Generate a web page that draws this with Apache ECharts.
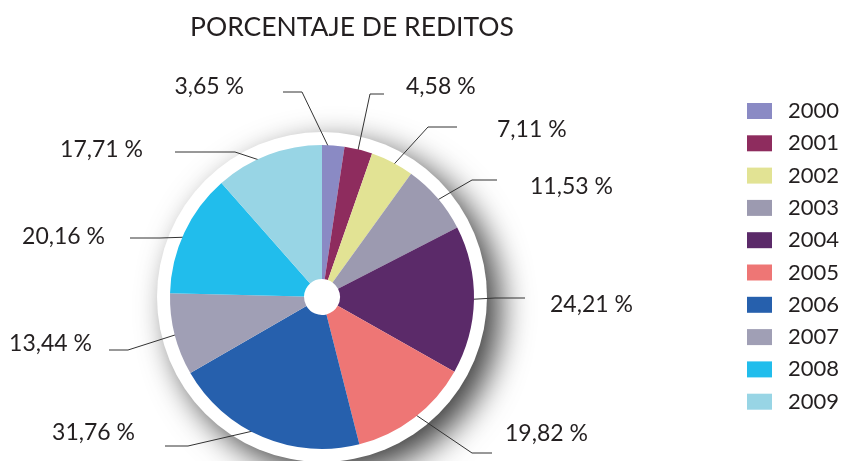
<!DOCTYPE html>
<html>
<head>
<meta charset="utf-8">
<script src="https://cdn.jsdelivr.net/npm/echarts@6/dist/echarts.min.js"></script>
<style>
  html, body { margin: 0; padding: 0; background: #fff; }
  #chart { width: 844px; height: 461px; }
</style>
</head>
<body>
<div id="chart"></div>
<script>
  // data
  var years = ['2000', '2001', '2002', '2003', '2004', '2005', '2006', '2007', '2008', '2009'];
  var reditos = [3.65, 4.58, 7.11, 11.53, 24.21, 19.82, 31.76, 13.44, 20.16, 17.71];

  var colors = ['#8a8ac4', '#8e2c5e', '#e2e394', '#9c9ab0', '#5b2a69',
                '#ee7675', '#2660ad', '#a09fb5', '#21bdec', '#98d5e5'];

  // label placement: text x, text y, align, elbow x, elbow y, end x, end y
  var labelPos = [
    [244, 87, 'right', 302, 92, 283, 92],
    [406, 87, 'left', 370, 94, 384, 94],
    [497, 130, 'left', 428, 127, 457, 127],
    [530, 187, 'left', 472, 180, 497, 180],
    [550, 305, 'left', 495, 298, 525, 298],
    [505, 434, 'left', 472, 453, 492, 453],
    [135, 433, 'right', 188, 446, 165, 446],
    [92, 344, 'right', 128, 350, 109, 350],
    [105, 237, 'right', 160, 238, 130, 238],
    [143, 150, 'right', 235, 152, 175, 152]
  ];

  var center = [322, 297];
  var fontFam = 'Lato, "Open Sans", sans-serif';
  var textColor = '#231f20';

  // mid angle of each slice (degrees clockwise from top), for the leader line start
  var total = reditos.reduce(function (a, b) { return a + b; }, 0);
  var midAngles = [];
  var acc = 0;
  reditos.forEach(function (v) {
    midAngles.push((acc + v / 2) / total * 360);
    acc += v;
  });

  var chart = echarts.init(document.getElementById('chart'));

  var pieData = years.map(function (y, i) {
    return { name: y, value: reditos[i], itemStyle: { color: colors[i] } };
  });

  var option = {
    animation: false,
    backgroundColor: '#fff',
    title: {
      text: 'PORCENTAJE DE REDITOS',
      left: 190,
      top: 14,
      padding: 0,
      textStyle: {
        fontFamily: fontFam,
        fontSize: 26.5,
        fontWeight: 'normal',
        color: textColor
      }
    },
    legend: {
      data: years,
      orient: 'vertical',
      left: 742,
      top: 95,
      icon: 'rect',
      itemWidth: 25,
      itemHeight: 16,
      itemGap: 10.3,
      selectedMode: false,
      textStyle: {
        fontFamily: fontFam,
        fontSize: 22,
        color: textColor,
        lineHeight: 22,
        padding: [0, 0, 0, 11]
      }
    },
    series: [
      {
        // white ring behind the pie
        type: 'pie',
        silent: true,
        z: 1,
        center: center,
        radius: [0, 165],
        label: { show: false },
        labelLine: { show: false },
        data: [{
          name: 'fondo',
          value: 1,
          itemStyle: {
            color: '#fff',
            shadowBlur: 32,
            shadowColor: 'rgba(0,0,0,0.75)',
            shadowOffsetX: 13,
            shadowOffsetY: 12
          }
        }]
      },
      {
        type: 'pie',
        z: 5,
        center: center,
        radius: [18, 152],
        startAngle: 90,
        clockwise: true,
        emphasis: { scale: false },
        itemStyle: { borderWidth: 0 },
        label: {
          show: true,
          position: 'outside',
          fontFamily: fontFam,
          fontSize: 23,
          color: textColor,
          formatter: function (p) {
            return p.value.toFixed(2).replace('.', ',') + ' %';
          }
        },
        labelLine: {
          show: true,
          lineStyle: { color: '#333', width: 1 }
        },
        labelLayout: function (params) {
          var i = params.dataIndex;
          var lp = labelPos[i];
          var a = midAngles[i] * Math.PI / 180;
          var p0 = [center[0] + 142 * Math.sin(a), center[1] - 142 * Math.cos(a)];
          return {
            x: lp[0],
            y: lp[1],
            align: lp[2],
            verticalAlign: 'middle',
            labelLinePoints: [p0, [lp[3], lp[4]], [lp[5], lp[6]]]
          };
        },
        data: pieData
      }
    ]
  };

  chart.setOption(option);
</script>
</body>
</html>
